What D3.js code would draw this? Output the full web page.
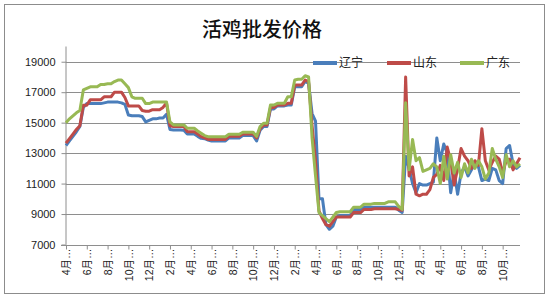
<!DOCTYPE html>
<html>
<head>
<meta charset="utf-8">
<script src="https://cdn.jsdelivr.net/npm/d3@7"></script>
<style>
  body { margin: 0; background: #fff; }
  text { font-family: "Liberation Sans", Arial, sans-serif; }
  .cjk { font-family: "Noto Sans CJK SC", sans-serif; }
  .mixed { font-family: "Liberation Sans", "Noto Sans CJK SC", sans-serif; }
</style>
</head>
<body>
<div id="chart"></div>
<script>
// series names
var seriesNames = ["辽宁", "山东", "广东"];

// x tick labels, one every 6 points
var tickLabels = ["4月…", "6月…", "8月…", "10月…", "12月…", "2月…", "4月…", "6月…", "8月…", "10月…", "12月…",
  "2月…", "4月…", "6月…", "8月…", "10月…", "12月…", "2月…", "4月…", "6月…", "8月…", "10月…"];
var tickEvery = 6;

var yTicks = [7000, 9000, 11000, 13000, 15000, 17000, 19000];

// prices (yuan / ton)
var liaoning = [
  13500, 13800, 14100, 14400, 14750, 16000, 16250, 16250, 16250, 16250,
  16250, 16300, 16350, 16350, 16350, 16350, 16300, 16200, 15500, 15450,
  15450, 15450, 15400, 15050, 15150, 15250, 15250, 15300, 15300, 15550,
  14550, 14520, 14520, 14520, 14500, 14250, 14250, 14250, 14100, 13970,
  13950, 13860, 13800, 13800, 13800, 13800, 13800, 14000, 14000, 14000,
  14000, 14150, 14150, 14150, 14150, 13800, 14500, 14750, 14750, 15900,
  15900, 16100, 16100, 16100, 16160, 16160, 17360, 17360, 17360, 17700,
  17600, 15600, 15100, 10000, 10000, 8300, 8000, 8200, 8800, 8900,
  8900, 8900, 8900, 9300, 9300, 9300, 9450, 9450, 9450, 9450,
  9450, 9450, 9450, 9450, 9450, 9450, 9250, 9100, 12800, 12000,
  11000, 10400, 11000, 10900, 10900, 11000, 11100, 14000, 12500, 13600,
  13000, 10400, 11800, 10300, 11700, 12100, 11500, 11900, 12300, 12100,
  11200, 11300, 11200, 12000, 11900, 11200, 11000, 13300, 13500, 12300,
  12000, 12200
];
var shandong = [
  13650, 13950, 14250, 14550, 14800, 16150, 16150, 16500, 16500, 16500,
  16500, 16700, 16700, 16700, 17000, 17000, 17000, 16650, 16100, 16100,
  16100, 16100, 15800, 15750, 15750, 15850, 15850, 15850, 16000, 16300,
  14800, 14750, 14750, 14750, 14750, 14400, 14400, 14400, 14250, 14080,
  14000, 13900, 13900, 13900, 13900, 13900, 13900, 14100, 14100, 14100,
  14100, 14250, 14250, 14250, 14250, 14000, 14600, 14850, 14850, 16000,
  16000, 16160, 16160, 16160, 16270, 16270, 17470, 17470, 17470, 17800,
  17700, 14800, 12500, 9200, 8700, 8300, 8200, 8500, 8800, 8800,
  8800, 8800, 8800, 9100, 9100, 9100, 9300, 9300, 9300, 9350,
  9350, 9350, 9350, 9350, 9350, 9350, 9300, 9250, 18000, 11500,
  12100, 10300, 10200, 10300, 10300, 10600, 11400, 11600, 12200, 11200,
  13400, 12500, 10900, 12000, 13300, 12800, 12500, 12000, 12500, 12200,
  14600, 12500, 11900, 12400, 12800, 12600, 11700, 12500, 12600, 11900,
  12300, 12700
];
var guangdong = [
  15000, 15250, 15450, 15650, 15800, 17150, 17250, 17350, 17350, 17350,
  17500, 17500, 17550, 17550, 17700, 17800, 17800, 17550, 17300, 16700,
  16600, 16600, 16600, 16250, 16250, 16350, 16350, 16350, 16350, 16350,
  15050, 14850, 14850, 14850, 14850, 14630, 14630, 14630, 14450, 14300,
  14150, 14080, 14080, 14080, 14080, 14080, 14080, 14240, 14240, 14240,
  14240, 14370, 14370, 14370, 14370, 14100, 14740, 14960, 14960, 16160,
  16160, 16270, 16270, 16270, 16700, 16700, 17800, 17850, 17850, 18080,
  18000, 14000, 11500, 9100, 8900, 8700, 8500, 8800, 9100, 9150,
  9150, 9150, 9150, 9450, 9450, 9450, 9650, 9650, 9650, 9700,
  9700, 9700, 9700, 9800, 9800, 9800, 9500, 9300, 16300, 11900,
  13900, 12500, 12700, 11800, 11900, 12000, 12300, 12100, 11000, 12800,
  11300, 12900, 11700, 12400, 11400, 12300, 11700, 12600, 12000, 12500,
  12100, 11300, 11700, 13300, 12600, 12100, 11400, 12900, 12100, 12500,
  12100, 12300
];

var colors = ["#4a7ebb", "#be4b48", "#98b954"];

var width = 550,
  height = 300;

var svg = d3.select("#chart").append("svg")
  .attr("width", width)
  .attr("height", height);

// chart frame
svg.append("rect")
  .attr("x", 4.5)
  .attr("y", 4.5)
  .attr("width", 540)
  .attr("height", 289)
  .attr("fill", "#fff")
  .attr("stroke", "#8c8c8c");

svg.append("text")
  .attr("class", "cjk")
  .attr("x", 262)
  .attr("y", 37)
  .attr("text-anchor", "middle")
  .style("font-size", "20px")
  .style("font-weight", 500)
  .attr("fill", "#111")
  .text("活鸡批发价格");

var plot = { left: 66, right: 520, top: 46.5, bottom: 244.5 };

var x = d3.scalePoint()
  .domain(d3.range(liaoning.length))
  .range([plot.left, plot.right]);

var y = d3.scaleLinear()
  .domain([7000, 20000])
  .range([plot.bottom, plot.top]);

// gridlines
svg.append("g").selectAll("line")
  .data(yTicks.slice(1))
  .enter().append("line")
  .attr("x1", plot.left)
  .attr("x2", plot.right)
  .attr("y1", function(d) { return Math.round(y(d)) + 0.5; })
  .attr("y2", function(d) { return Math.round(y(d)) + 0.5; })
  .attr("stroke", "#8e8e8e");

// y axis
var yAxis = svg.append("g")
  .attr("transform", "translate(" + (plot.left + 0.5) + ",0)")
  .call(d3.axisLeft(y).tickValues(yTicks).tickSize(5).tickPadding(6).tickFormat(d3.format("d")));
yAxis.select(".domain").attr("stroke", "#8e8e8e")
  .attr("d", "M-0.5," + plot.top + "V" + plot.bottom);
yAxis.selectAll(".tick line").attr("stroke", "#8e8e8e");
yAxis.selectAll(".tick text")
  .style("font-size", "11px")
  .attr("fill", "#222");

// x axis
var tickIdx = tickLabels.map(function(d, i) { return i * tickEvery; });
var xAxis = svg.append("g")
  .attr("transform", "translate(0," + (Math.round(plot.bottom) + 0.5) + ")")
  .call(d3.axisBottom(x).tickValues(tickIdx).tickSize(4)
    .tickFormat(function(d) { return tickLabels[d / tickEvery]; }));
xAxis.select(".domain").attr("stroke", "#8e8e8e")
  .attr("d", "M" + (plot.left - 5) + ",0H" + plot.right);
xAxis.selectAll(".tick line").attr("stroke", "#8e8e8e");
xAxis.selectAll(".tick text")
  .attr("class", "mixed")
  .style("font-size", "10.5px")
  .attr("fill", "#222")
  .attr("text-anchor", "end")
  .attr("transform", "rotate(-90)")
  .attr("x", -3)
  .attr("y", 0)
  .attr("dy", "0.35em");

// lines
var line = d3.line()
  .x(function(d, i) { return x(i); })
  .y(function(d) { return y(d); });

var allSeries = [liaoning, shandong, guangdong];

svg.append("g").selectAll("path")
  .data(allSeries)
  .enter().append("path")
  .attr("d", line)
  .attr("fill", "none")
  .attr("stroke", function(d, i) { return colors[i]; })
  .attr("stroke-width", 3)
  .attr("stroke-linejoin", "round");

// legend
var legendX = [313, 387, 460];
var legend = svg.append("g").selectAll("g")
  .data(seriesNames)
  .enter().append("g")
  .attr("transform", function(d, i) { return "translate(" + legendX[i] + ",63)"; });

legend.append("line")
  .attr("x1", 0)
  .attr("x2", 24)
  .attr("stroke", function(d, i) { return colors[i]; })
  .attr("stroke-width", 4);

legend.append("text")
  .attr("class", "cjk")
  .attr("x", 26)
  .attr("dy", "0.35em")
  .style("font-size", "12px")
  .attr("fill", "#222")
  .text(function(d) { return d; });
</script>
</body>
</html>
